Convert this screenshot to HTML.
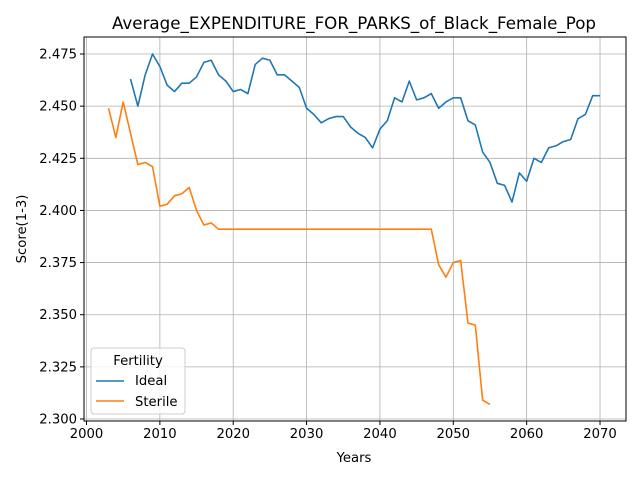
<!DOCTYPE html>
<html><head><meta charset="utf-8"><style>body{margin:0;background:#fff}svg{font-family:"DejaVu Sans","Liberation Sans",sans-serif}</style></head>
<body>
<svg id="chart" width="640" height="480" xmlns="http://www.w3.org/2000/svg">
<rect width="640" height="480" fill="#fff"/>
<g id="grid"></g><g id="series"></g><g id="axes"></g>
<text x="354" y="29" font-size="16.7" text-anchor="middle">Average_EXPENDITURE_FOR_PARKS_of_Black_Female_Pop</text>
<text x="354" y="462" font-size="13.2" text-anchor="middle">Years</text>
<text x="26" y="229" font-size="13.2" text-anchor="middle" transform="rotate(-90 26 229)">Score(1-3)</text>
<g>
<rect x="91" y="348" width="94" height="66" fill="#fff" fill-opacity="0.8" stroke="#ccc" rx="3"/>
<text x="138" y="365" font-size="13.2" text-anchor="middle">Fertility</text>
<line x1="96" y1="381" x2="124" y2="381" stroke="#1f77b4" stroke-width="1.5"/>
<text x="135" y="385" font-size="13.2">Ideal</text>
<line x1="96" y1="401" x2="124" y2="401" stroke="#ff7f0e" stroke-width="1.5"/>
<text x="135" y="406" font-size="13.2">Sterile</text>
</g>
</svg>
<script>
const idealYears=[];for(let y=2006;y<=2070;y++)idealYears.push(y);
const idealValues=[2.463,2.450,2.465,2.475,2.469,2.460,2.457,2.461,2.461,2.464,2.471,2.472,2.465,2.462,2.457,2.458,2.456,2.470,2.473,2.472,2.465,2.465,2.462,2.459,2.449,2.446,2.442,2.444,2.445,2.445,2.440,2.437,2.435,2.430,2.439,2.443,2.454,2.452,2.462,2.453,2.454,2.456,2.449,2.452,2.454,2.454,2.443,2.441,2.428,2.423,2.413,2.412,2.404,2.418,2.414,2.425,2.423,2.430,2.431,2.433,2.434,2.444,2.446,2.455,2.455];
const sterileYears=[];for(let y=2003;y<=2055;y++)sterileYears.push(y);
const sterileValues=[2.449,2.435,2.452,2.437,2.422,2.423,2.421,2.402,2.403,2.407,2.408,2.411,2.400,2.393,2.394,2.391,2.391,2.391,2.391,2.391,2.391,2.391,2.391,2.391,2.391,2.391,2.391,2.391,2.391,2.391,2.391,2.391,2.391,2.391,2.391,2.391,2.391,2.391,2.391,2.391,2.391,2.391,2.391,2.391,2.391,2.374,2.368,2.375,2.376,2.346,2.345,2.309,2.307];
const xTicks=[2000,2010,2020,2030,2040,2050,2060,2070];
const yTicks=[2.300,2.325,2.350,2.375,2.400,2.425,2.450,2.475];
const L=84,R=626,T=37,B=421;
const xs=v=>86.5+(v-2000)*7.336;
const ys=v=>419-(v-2.3)*2085.7;
const NS='http://www.w3.org/2000/svg';
function mk(t,a,p){const e=document.createElementNS(NS,t);for(const k in a)e.setAttribute(k,a[k]);p.appendChild(e);return e;}
const grid=document.getElementById('grid'),axes=document.getElementById('axes'),ser=document.getElementById('series');
xTicks.forEach(t=>{const x=xs(t);
const g=mk('line',{x1:x,x2:x,y1:T,y2:B,stroke:'#b0b0b0','stroke-width':0.8},grid);


mk('line',{x1:x,x2:x,y1:B,y2:B+4,stroke:'#000'},axes);
const tx=mk('text',{x:x,y:B+17,'font-size':13.2,'text-anchor':'middle'},axes);tx.textContent=t;

});
yTicks.forEach(t=>{const y=ys(t);
const g=mk('line',{x1:L,x2:R,y1:y,y2:y,stroke:'#b0b0b0','stroke-width':0.8},grid);


mk('line',{x1:L-4,x2:L,y1:y,y2:y,stroke:'#000'},axes);
const tx=mk('text',{x:L-7,y:y+4.5,'font-size':13.2,'text-anchor':'end'},axes);tx.textContent=t.toFixed(3);

});
const fr=mk('rect',{x:L,y:T,width:R-L,height:B-T,fill:'none',stroke:'#000','stroke-width':1},axes);


function line(xv,yv,c,n){const p=mk('polyline',{points:xv.map((x,i)=>xs(x)+','+ys(yv[i])).join(' '),fill:'none',stroke:c,'stroke-width':1.6,'stroke-linejoin':'round'},ser);

}
line(idealYears,idealValues,'#1f77b4','ideal-line');
line(sterileYears,sterileValues,'#ff7f0e','sterile-line');
</script>
</body></html>
